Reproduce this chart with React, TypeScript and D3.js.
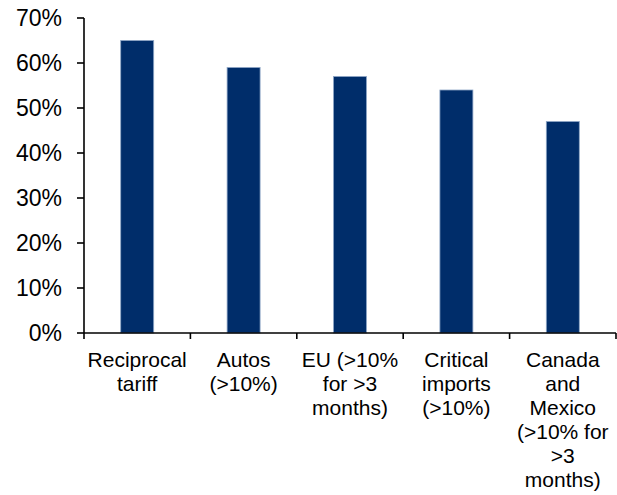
import React from "react";
import * as d3 from "d3";

const categoryLines: string[][] = [
  ["Reciprocal", "tariff"],
  ["Autos", "(>10%)"],
  ["EU (>10%", "for >3", "months)"],
  ["Critical", "imports", "(>10%)"],
  ["Canada", "and", "Mexico", "(>10% for", ">3", "months)"],
];
const categories: string[] = categoryLines.map((l) => l.join(" "));
const shares: number[] = [0.65, 0.59, 0.57, 0.54, 0.47];
const yTicks: number[] = [0, 0.1, 0.2, 0.3, 0.4, 0.5, 0.6, 0.7];

const W = 617;
const H = 495;
const left = 84;
const right = 616;
const top = 18;
const bottom = 333;
const FONT = "Arial, 'Liberation Sans', sans-serif";

export default function App() {
  const x = d3
    .scaleBand<string>()
    .domain(categories)
    .range([left, right])
    .paddingInner(0.69)
    .paddingOuter(0.345);
  const y = d3.scaleLinear().domain([0, 0.7]).range([bottom, top]);
  const fmt = d3.format(".0%");
  const step = x.step();
  const boundaries = d3.range(categories.length + 1).map((i) => left + i * step);

  return (
    <svg
      width={W}
      height={H}
      style={{ position: "absolute", left: 0, top: 0, background: "#fff" }}
      fontFamily={FONT}
    >
      {categories.map((c, i) => (
        <rect
          key={c}
          x={x(c)!}
          y={y(shares[i])}
          width={x.bandwidth()}
          height={y(0) - y(shares[i])}
          fill="#002D6A"
          stroke="#8EA6C6"
          strokeWidth={0.8}
        />
      ))}

      {/* value axis */}
      <line x1={left} x2={left} y1={top} y2={bottom} stroke="#000" strokeWidth={1.6} />
      {yTicks.map((t) => (
        <g key={t}>
          <line x1={left - 7} x2={left} y1={y(t)} y2={y(t)} stroke="#000" strokeWidth={1.6} />
          <text
            x={62}
            y={y(t)}
            dy="0.36em"
            textAnchor="end"
            fontSize={23}
            fill="#000"
          >
            {fmt(t)}
          </text>
        </g>
      ))}

      {/* category axis */}
      <line x1={left} x2={right} y1={bottom} y2={bottom} stroke="#000" strokeWidth={1.6} />
      {boundaries.map((b, i) => (
        <line key={i} x1={b} x2={b} y1={bottom} y2={bottom + 6} stroke="#000" strokeWidth={1.6} />
      ))}
      {categories.map((c, i) => (
        <text
          key={c}
          x={x(c)! + x.bandwidth() / 2}
          y={367}
          textAnchor="middle"
          fontSize={21}
          fill="#000"
        >
          {categoryLines[i].map((line, j) => (
            <tspan key={j} x={x(c)! + x.bandwidth() / 2} dy={j === 0 ? 0 : 24}>
              {line}
            </tspan>
          ))}
        </text>
      ))}
    </svg>
  );
}
